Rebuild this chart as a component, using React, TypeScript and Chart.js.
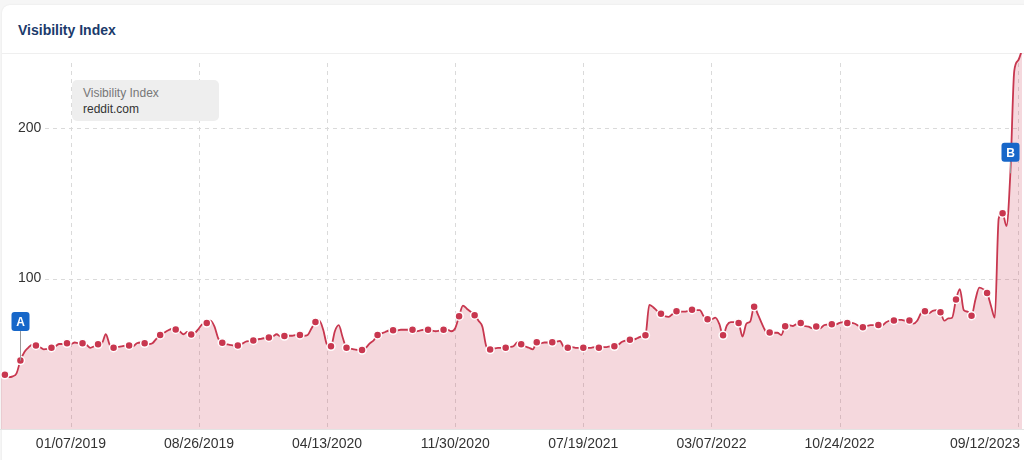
import React, { useEffect, useRef } from 'react';
import { Chart, registerables } from 'chart.js';

Chart.register(...registerables);

// Weekly visibility index for reddit.com (week 0 = 09/03/2018)
const weeklyValues: number[] = [
  35.5, 36.0, 34.5, 35, 37, 45.5, 51, 54, 56, 55.6,
  54.5, 53, 53.3, 54.1, 55, 56.5, 56.5, 57, 56.5, 57.5,
  57, 57, 56, 54, 55, 56.3, 57, 63, 56, 54.1,
  54.5, 55, 55.5, 55.6, 55, 57, 57.5, 57, 56.5, 57,
  60, 62.5, 64, 65.5, 66.5, 66.2, 65, 63, 64.5, 62.9,
  64, 67, 70, 70.4, 72, 68, 60, 57.4, 56.5, 56,
  55.5, 55.6, 56.5, 58, 58.5, 58.9, 59.5, 60, 60.5, 60.9,
  61.5, 63, 61.5, 61.8, 62, 62, 62.5, 62.5, 62, 62.5,
  67, 71.1, 72, 66, 56, 55, 65, 69, 61, 54.1,
  53.5, 53, 52.5, 52.5, 54, 57, 59, 62.5, 63.5, 64.5,
  65.5, 65.6, 65.5, 66, 66, 66, 66, 65, 65.5, 66,
  66, 65.5, 65, 65.5, 66, 66, 65, 67, 75, 82,
  80, 78, 75.7, 72, 68, 55, 52.8, 53.5, 54, 54,
  54.1, 54.5, 55, 57.5, 56.3, 55, 54, 53, 57.6, 57,
  57.5, 57.5, 57.6, 58, 58.5, 54.5, 54.1, 54.5, 54, 54,
  54.1, 54, 54, 54.5, 54.1, 54.5, 54.5, 55, 55, 56,
  58, 59, 59.4, 59.5, 60.5, 61.5, 62.3, 82.5, 81, 78.5,
  76.6, 75, 74.5, 76.5, 78.3, 78, 78, 78.5, 79.3, 79,
  79, 75, 73, 73, 74, 70, 62.3, 69, 71, 71,
  70.4, 61.5, 70, 71.5, 81.3, 76, 70, 65, 64.2, 64,
  64, 62.5, 68.4, 69, 68.5, 70, 70.4, 68.5, 68, 67,
  68.2, 67, 69, 69.5, 69.7, 69.5, 70.5, 71, 70.4, 70.5,
  70, 68.5, 67.7, 68.5, 69, 69, 69.1, 69, 71, 72,
  72.2, 72.5, 72.5, 72, 72.2, 70, 72, 77, 78.3, 77,
  78.5, 79, 77.7, 72, 73.5, 74, 86.1, 93, 79, 78,
  75.3, 86, 94, 93, 90.5, 82, 74, 140, 143.5, 135,
  170, 238, 245, 252,
];

// Weeks that carry a visible measurement dot
const dotWeeks: number[] = [
  1, 5, 9, 13, 17, 21, 25, 29, 33, 37, 41, 45, 49, 53, 57, 61, 65, 69, 73, 77,
  81, 85, 89, 93, 97, 101, 106, 110, 114, 118, 122, 126, 130, 134, 138, 142,
  146, 150, 154, 158, 162, 166, 170, 174, 178, 182, 186, 190, 194, 198, 202,
  206, 210, 214, 218, 222, 226, 230, 234, 238, 242, 246, 250, 254, 258,
];

const xTickWeeks: number[] = [18, 51, 84, 117, 150, 183, 216, 262];
const xTickLabels: string[] = [
  '01/07/2019', '08/26/2019', '04/13/2020', '11/30/2020',
  '07/19/2021', '03/07/2022', '10/24/2022', '09/12/2023',
];
const yTickValues: number[] = [100, 200];

const annotationWeeks: number[] = [5, 260];
const annotationLetters: string[] = ['A', 'B'];

const LINE = '#c8374f';
const FILL = 'rgba(205, 60, 85, 0.2)';
const FONT = '"Liberation Sans", Arial, sans-serif';

const dotSet = new Set(dotWeeks);

const gridPlugin = {
  id: 'customGrid',
  beforeDatasetsDraw(chart: any) {
    const { ctx, chartArea, scales } = chart;
    ctx.save();
    ctx.strokeStyle = '#dadada';
    ctx.lineWidth = 1;
    ctx.setLineDash([4, 4]);
    yTickValues.forEach((v) => {
      const y = Math.round(scales.y.getPixelForValue(v)) + 0.5;
      ctx.beginPath();
      ctx.moveTo(45, y);
      ctx.lineTo(chartArea.right - 2, y);
      ctx.stroke();
    });
    xTickWeeks.forEach((w) => {
      const x = Math.round(scales.x.getPixelForValue(w)) + 0.5;
      ctx.beginPath();
      ctx.moveTo(x, chartArea.top + 10);
      ctx.lineTo(x, chartArea.bottom);
      ctx.stroke();
    });
    ctx.setLineDash([]);
    ctx.fillStyle = '#333';
    ctx.font = `14px ${FONT}`;
    ctx.textAlign = 'left';
    ctx.textBaseline = 'middle';
    yTickValues.forEach((v) => {
      const y = scales.y.getPixelForValue(v);
      ctx.fillText(String(v), 18, y);
    });
    ctx.restore();
  },
  afterDatasetsDraw(chart: any) {
    const { ctx, chartArea, scales } = chart;
    ctx.save();
    // bottom axis line
    ctx.strokeStyle = '#e3e3e3';
    ctx.lineWidth = 1;
    ctx.beginPath();
    ctx.moveTo(0, Math.round(chartArea.bottom) + 0.5);
    ctx.lineTo(chart.width, Math.round(chartArea.bottom) + 0.5);
    ctx.stroke();
    // x labels
    ctx.fillStyle = '#333';
    ctx.font = `14px ${FONT}`;
    ctx.textAlign = 'center';
    ctx.textBaseline = 'middle';
    xTickWeeks.forEach((w, i) => {
      const label = xTickLabels[i];
      const tw = ctx.measureText(label).width;
      let x = scales.x.getPixelForValue(w);
      x = Math.min(x, chart.width - 4 - tw / 2);
      ctx.fillText(label, x, chartArea.bottom + 15);
    });
    // annotation markers
    const offsets = [39, 21];
    annotationWeeks.forEach((w, i) => {
      const x = Math.round(scales.x.getPixelForValue(w));
      const py = scales.y.getPixelForValue(weeklyValues[w]);
      const cy = py - offsets[i];
      const bw = 18, bh = 19;
      ctx.strokeStyle = '#999';
      ctx.lineWidth = 1;
      ctx.beginPath();
      ctx.moveTo(x + 0.5, cy + bh / 2);
      ctx.lineTo(x + 0.5, py);
      ctx.stroke();
      ctx.fillStyle = '#1767c9';
      ctx.beginPath();
      (ctx as any).roundRect(x - bw / 2 + 0.5, cy - bh / 2, bw, bh, 3);
      ctx.fill();
      ctx.fillStyle = '#fff';
      ctx.font = `bold 12px ${FONT}`;
      ctx.textAlign = 'center';
      ctx.textBaseline = 'middle';
      ctx.fillText(annotationLetters[i], x + 0.5, cy + 1);
    });
    ctx.restore();
  },
};

export default function App() {
  const canvasRef = useRef<HTMLCanvasElement | null>(null);

  useEffect(() => {
    document.body.style.margin = '0';
    const canvas = canvasRef.current;
    if (!canvas) return;
    const chart = new Chart(canvas, {
      type: 'line',
      data: {
        datasets: [
          {
            label: 'reddit.com',
            data: weeklyValues.map((v, i) => ({ x: i, y: v })),
            borderColor: LINE,
            borderWidth: 1.8,
            backgroundColor: FILL,
            fill: 'origin',
            cubicInterpolationMode: 'monotone',
            pointRadius: (c: any) => (dotSet.has(c.dataIndex) ? 4 : 0),
            pointBackgroundColor: LINE,
            pointBorderColor: '#ffffff',
            pointBorderWidth: 1.5,
          },
        ],
      },
      options: {
        responsive: false,
        maintainAspectRatio: false,
        animation: false,
        layout: { padding: { left: 1, right: 2, top: 53, bottom: 31 } },
        scales: {
          x: { type: 'linear', min: 0, max: 263, display: false },
          y: { type: 'linear', min: 0, max: 250, display: false },
        },
        plugins: {
          legend: { display: false },
          tooltip: { enabled: false },
        },
      },
      plugins: [gridPlugin],
    } as any);
    return () => chart.destroy();
  }, []);

  return (
    <div style={{ position: 'fixed', inset: 0, background: '#f6f6f6', overflow: 'hidden' }}>
      <div
        style={{
          position: 'absolute', left: 2, top: 5, right: -12, bottom: -12,
          background: '#fff', borderRadius: 8, boxShadow: '0 0 2px rgba(0,0,0,0.08)',
        }}
      />
      <div
        style={{
          position: 'absolute', left: 18, top: 21, fontFamily: FONT, fontWeight: 'bold',
          fontSize: 14, color: '#1b3a6b', lineHeight: '18px',
        }}
      >
        Visibility Index
      </div>
      <div style={{ position: 'absolute', left: 2, right: 0, top: 53, height: 1, background: '#efefef' }} />
      <canvas
        ref={canvasRef}
        width={1024}
        height={460}
        style={{ position: 'absolute', left: 0, top: 0, width: 1024, height: 460 }}
      />
      <div
        style={{
          position: 'absolute', left: 72, top: 80, width: 147, height: 41, background: '#eeeeee',
          borderRadius: 5, fontFamily: FONT, fontSize: 12, lineHeight: '16px',
          boxSizing: 'border-box', padding: '5px 0 0 11px',
        }}
      >
        <div style={{ color: '#777' }}>Visibility Index</div>
        <div style={{ color: '#333' }}>reddit.com</div>
      </div>
    </div>
  );
}
